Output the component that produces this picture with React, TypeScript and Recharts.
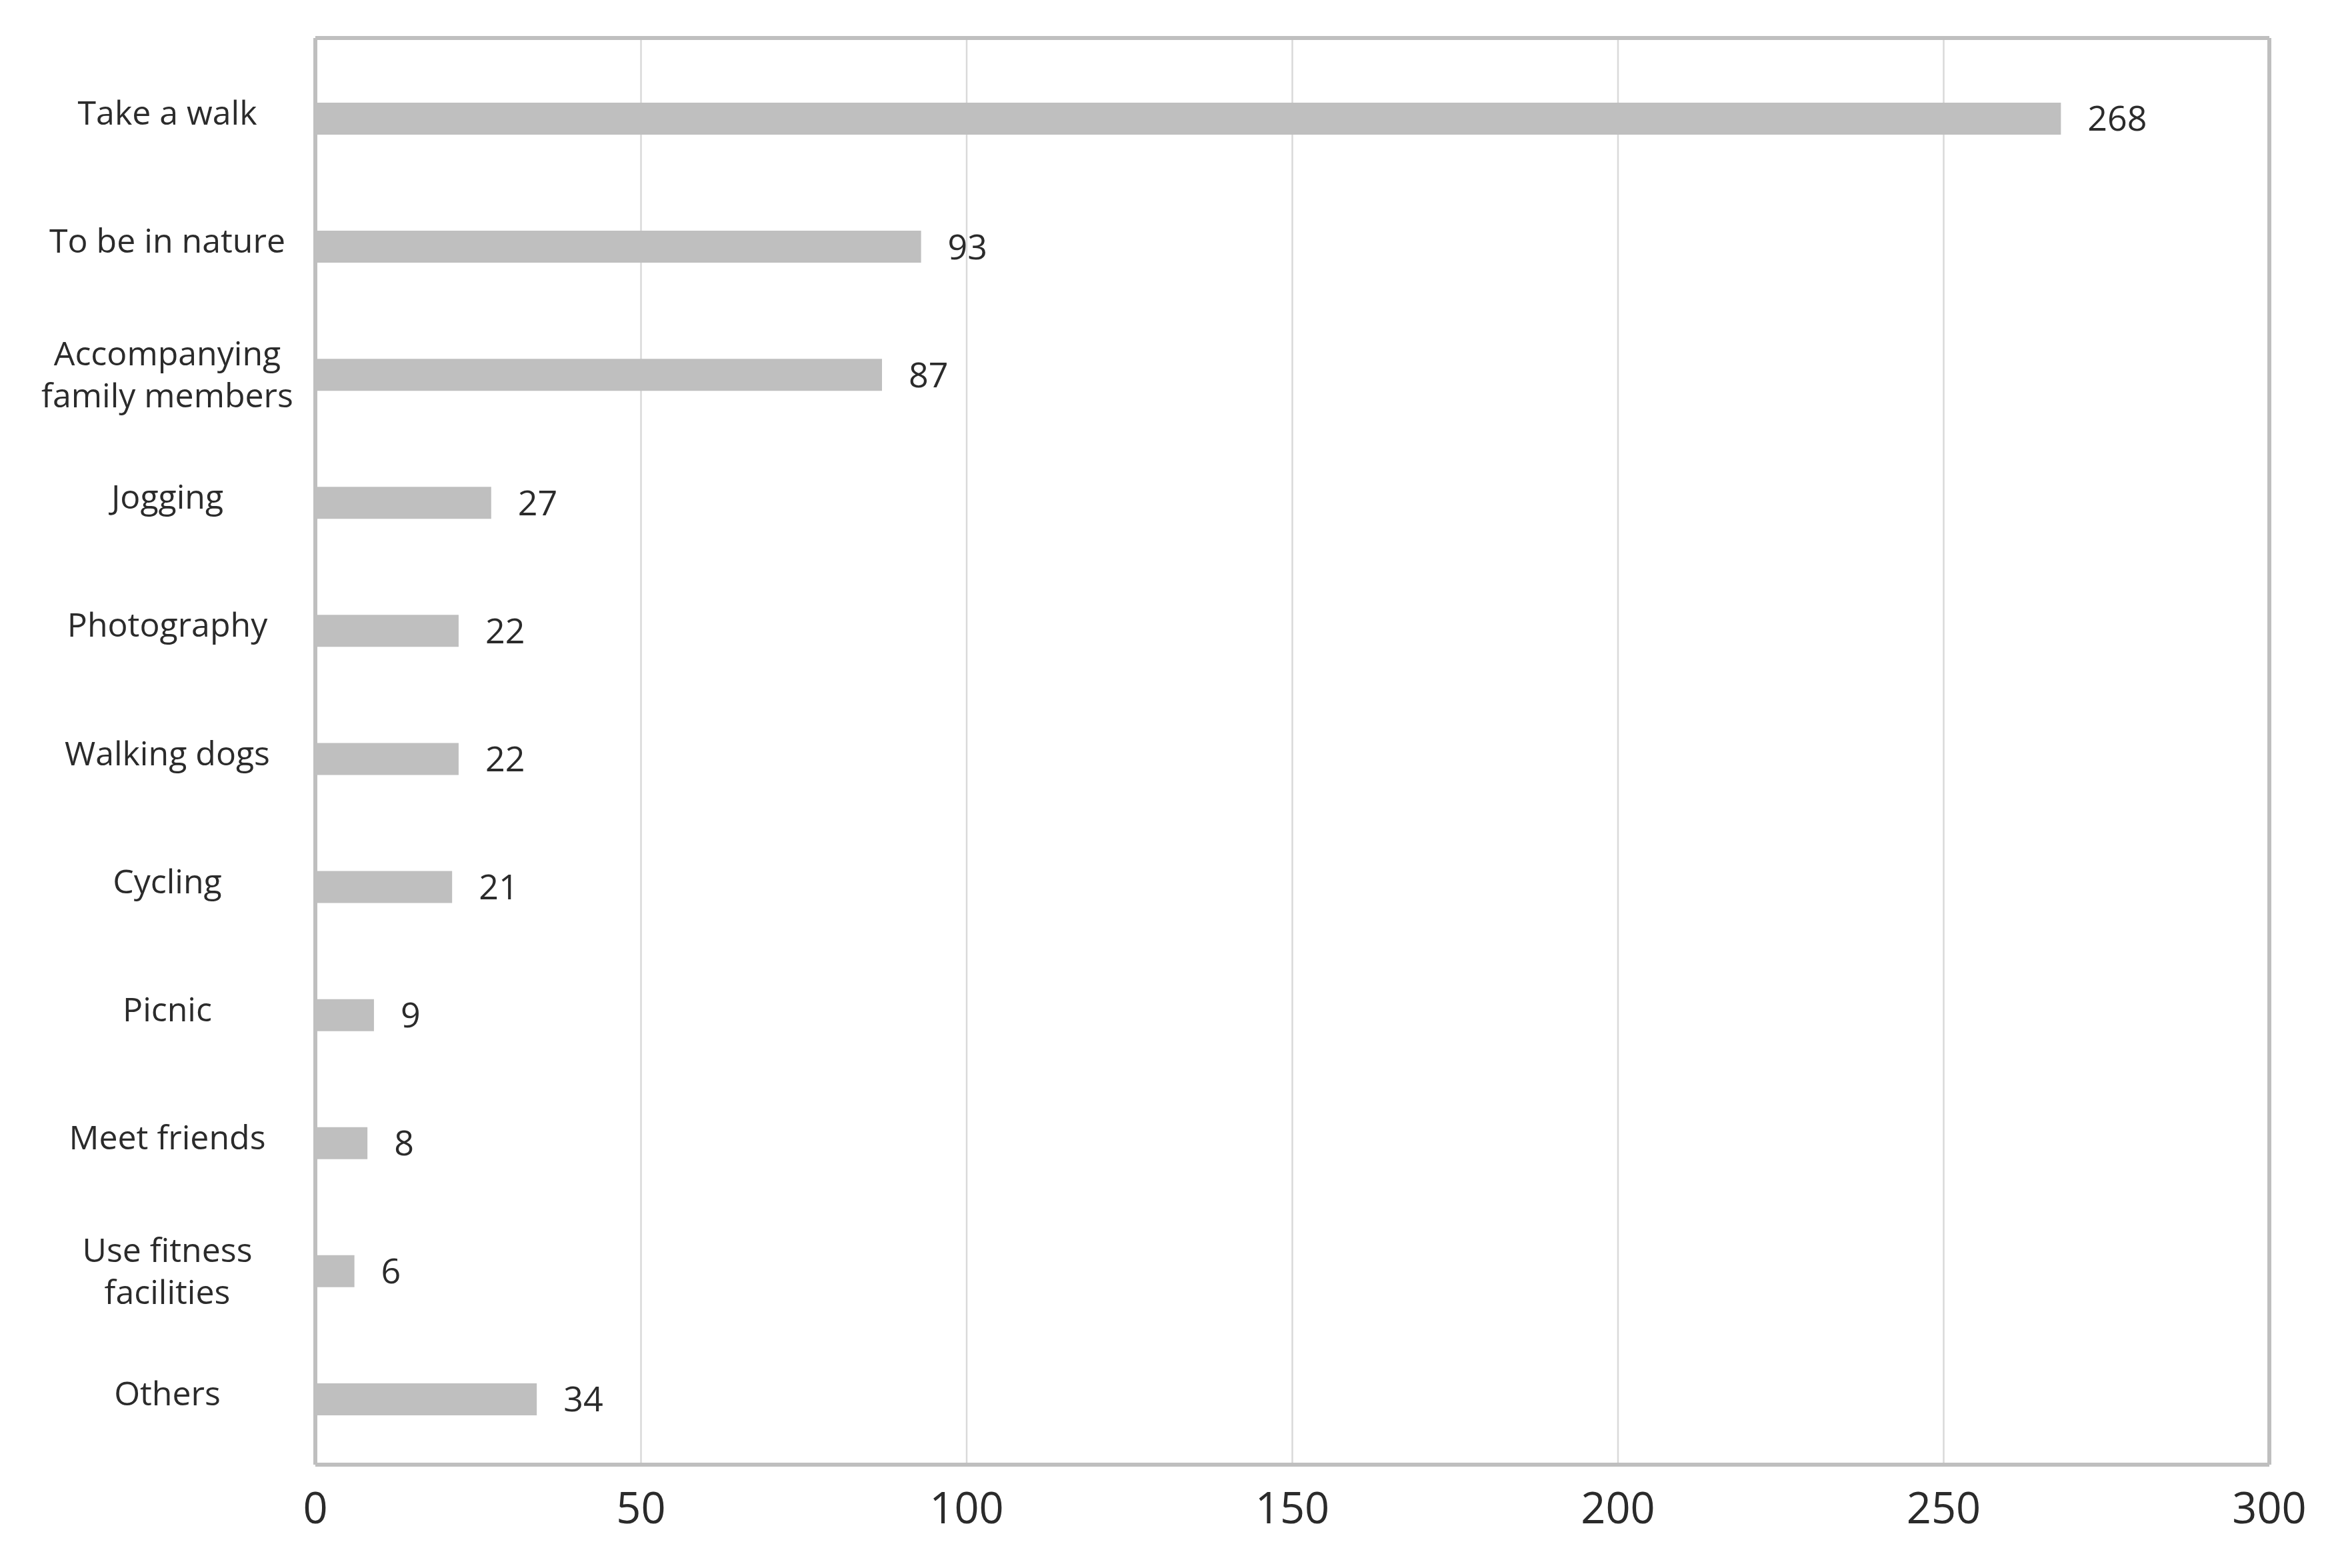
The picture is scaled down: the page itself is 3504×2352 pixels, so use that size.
import React from "react";
import { BarChart, Bar, XAxis, YAxis, CartesianGrid, LabelList } from "recharts";

const categories = [
  "Take a walk",
  "To be in nature",
  "Accompanying family members",
  "Jogging",
  "Photography",
  "Walking dogs",
  "Cycling",
  "Picnic",
  "Meet friends",
  "Use fitness facilities",
  "Others",
];
const values = [268, 93, 87, 27, 22, 22, 21, 9, 8, 6, 34];
const xTicks = [0, 50, 100, 150, 200, 250, 300];

const data = categories.map((name, i) => ({ name, value: values[i] }));

const FONT = "'Open Sans', 'DejaVu Sans', sans-serif";
const BORDER = "#bfbfbf";
const TEXT = "#2b2b2b";

function wrap(text: string, max: number): string[] {
  const words = text.split(" ");
  const lines: string[] = [];
  let cur = "";
  for (const w of words) {
    const next = cur ? cur + " " + w : w;
    if (next.length > max && cur) {
      lines.push(cur);
      cur = w;
    } else {
      cur = next;
    }
  }
  if (cur) lines.push(cur);
  return lines;
}

const CategoryTick = (props: any) => {
  const { x, y, payload } = props;
  const lines = wrap(String(payload.value), 15);
  const cx = x - 222;
  if (lines.length === 1) {
    return (
      <text x={cx} y={y + 9} textAnchor="middle" fontSize={50} fontFamily={FONT} fill={TEXT}>
        {lines[0]}
      </text>
    );
  }
  return (
    <text x={cx} y={y - 14} textAnchor="middle" fontSize={50} fontFamily={FONT} fill={TEXT}>
      {lines.map((l, i) => (
        <tspan key={i} x={cx} dy={i === 0 ? 0 : 63}>
          {l}
        </tspan>
      ))}
    </text>
  );
};

const topEdge = (p: any) => [p.offset.top];
const rightEdge = (p: any) => [p.offset.left + p.offset.width];

export default function App() {
  return (
    <BarChart
      width={3488}
      height={2336}
      data={data}
      layout="vertical"
      margin={{ top: 49, right: 92, bottom: 0, left: 0 }}
      style={{ background: "#ffffff" }}
    >
      <CartesianGrid horizontal={false} stroke="#d9d9d9" strokeWidth={2.5} />
      <CartesianGrid
        horizontalCoordinatesGenerator={topEdge}
        verticalCoordinatesGenerator={rightEdge}
        stroke={BORDER}
        strokeWidth={6}
      />
      <XAxis
        type="number"
        domain={[0, 300]}
        ticks={xTicks}
        interval={0}
        height={147}
        axisLine={{ stroke: BORDER, strokeWidth: 6 }}
        tickLine={false}
        tickSize={0}
        tickMargin={42}
        tick={{ fontSize: 65, fontFamily: FONT, fill: TEXT }}
      />
      <YAxis
        type="category"
        dataKey="name"
        width={465}
        padding={{ top: 25, bottom: 2 }}
        axisLine={{ stroke: BORDER, strokeWidth: 6 }}
        tickLine={false}
        tickSize={0}
        tickMargin={0}
        interval={0}
        tick={<CategoryTick />}
      />
      <Bar dataKey="value" fill="#bfbfbf" barSize={48} isAnimationActive={false}>
        <LabelList
          dataKey="value"
          position="right"
          offset={40}
          fontSize={52}
          fontFamily={FONT}
          fill={TEXT}
        />
      </Bar>
    </BarChart>
  );
}
